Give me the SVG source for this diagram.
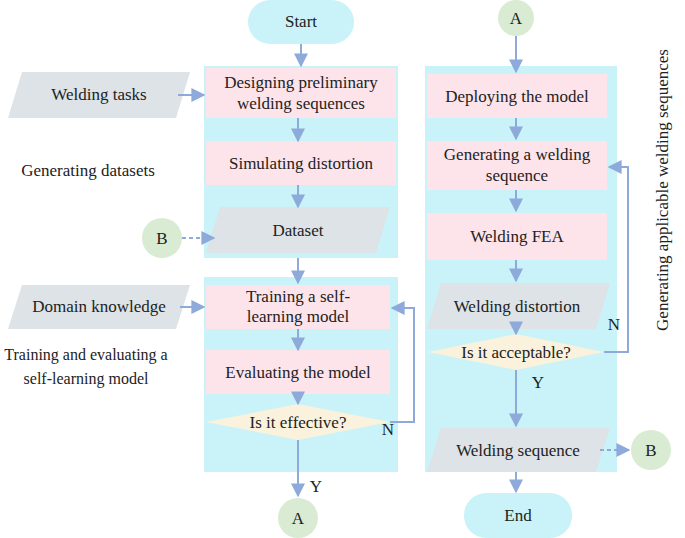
<svg xmlns="http://www.w3.org/2000/svg" width="685" height="538" viewBox="0 0 685 538" font-family="'Liberation Serif', 'Times New Roman', serif" font-size="17">
<defs>
<marker id="ah" viewBox="0 0 10 10" refX="9" refY="5" markerWidth="7" markerHeight="7" orient="auto"><path d="M0,0 L10,5 L0,10 z" fill="#8eaadb"/></marker>
<style>
text{fill:#222;text-anchor:middle}
.panel{fill:#c9f3f8}
.pink{fill:#fde4ea}
.io{fill:#dde3e6}
.dia{fill:#faf2dc}
.circ{fill:#d9ebd3}
.term{fill:#c9f3f8}
.c{stroke:#8eaadb;stroke-width:2;fill:none;marker-end:url(#ah)}
.d{stroke-dasharray:4 3}
</style>
</defs>
<rect class="panel" x="204" y="66" width="194" height="192"/>
<rect class="panel" x="204" y="277" width="194" height="195"/>
<rect class="panel" x="425" y="66" width="192" height="406"/>
<text x="88" y="176">Generating datasets</text>
<text x="86" y="360" font-size="16">Training and evaluating a</text>
<text x="86" y="384" font-size="16">self-learning model</text>
<text transform="translate(668,190) rotate(-90)">Generating applicable welding sequences</text>
<g id="start"><rect class="term" x="248" y="0" width="106" height="44" rx="22"/><text x="301" y="27">Start</text></g>
<g id="tasks"><path class="io" d="M22,72 H190 L176,118 H8 Z"/><text x="99" y="100">Welding tasks</text></g>
<g id="design"><rect class="pink" x="206" y="68" width="190" height="50"/><text x="301" y="88">Designing preliminary</text><text x="301" y="109">welding sequences</text></g>
<g id="sim"><rect class="pink" x="206" y="141" width="190" height="44"/><text x="301" y="169">Simulating distortion</text></g>
<g id="dataset"><path class="io" d="M220,207 H390 L376,253 H206 Z"/><text x="298" y="236">Dataset</text></g>
<g id="b1"><circle class="circ" cx="162" cy="238" r="20"/><text x="162" y="244">B</text></g>
<g id="domain"><path class="io" d="M22,285 H190 L176,329 H8 Z"/><text x="99" y="312">Domain knowledge</text></g>
<g id="train"><rect class="pink" x="206" y="285" width="184" height="44"/><text x="298" y="302">Training a self-</text><text x="298" y="322">learning model</text></g>
<g id="eval"><rect class="pink" x="206" y="350" width="184" height="44"/><text x="298" y="378">Evaluating the model</text></g>
<g id="eff"><path class="dia" d="M206,422 L298,404 L390,422 L298,440 Z"/><text x="298" y="428">Is it effective?</text></g>
<g id="a1"><circle class="circ" cx="298" cy="518" r="20"/><text x="298" y="524">A</text></g>
<g id="a2"><circle class="circ" cx="516" cy="18" r="18"/><text x="516" y="24">A</text></g>
<g id="deploy"><rect class="pink" x="427" y="74" width="180" height="44"/><text x="517" y="102">Deploying the model</text></g>
<g id="gen"><rect class="pink" x="427" y="141" width="180" height="49"/><text x="517" y="160">Generating a welding</text><text x="517" y="181">sequence</text></g>
<g id="fea"><rect class="pink" x="427" y="213" width="180" height="47"/><text x="517" y="242">Welding FEA</text></g>
<g id="distortion"><path class="io" d="M441,283 H610 L596,329 H427 Z"/><text x="517" y="312">Welding distortion</text></g>
<g id="acc"><path class="dia" d="M428,352 L516,334 L604,352 L516,370 Z"/><text x="516" y="358">Is it acceptable?</text></g>
<g id="wseq"><path class="io" d="M441,428 H610 L596,472 H427 Z"/><text x="518" y="456">Welding sequence</text></g>
<g id="b2"><circle class="circ" cx="651" cy="450" r="20"/><text x="651" y="456">B</text></g>
<g id="end"><rect class="term" x="464" y="493" width="108" height="45" rx="22"/><text x="518" y="521">End</text></g>
<g id="connectors">
<line class="c" x1="301" y1="44" x2="301" y2="66"/>
<line class="c" x1="178" y1="95" x2="204" y2="95"/>
<line class="c" x1="298" y1="118" x2="298" y2="141"/>
<line class="c" x1="298" y1="185" x2="298" y2="207"/>
<line class="c d" x1="182" y1="238" x2="214" y2="238"/>
<line class="c" x1="298" y1="258" x2="298" y2="283"/>
<line class="c" x1="180" y1="307" x2="204" y2="307"/>
<line class="c" x1="298" y1="329" x2="298" y2="350"/>
<line class="c" x1="298" y1="394" x2="298" y2="404"/>
<line class="c" x1="298" y1="440" x2="298" y2="496"/>
<path class="c" d="M390,422 H414 V308 H392"/>
<line class="c" x1="516" y1="36" x2="516" y2="72"/>
<line class="c" x1="516" y1="118" x2="516" y2="139"/>
<line class="c" x1="516" y1="190" x2="516" y2="211"/>
<line class="c" x1="516" y1="260" x2="516" y2="281"/>
<line class="c" x1="516" y1="329" x2="516" y2="334"/>
<line class="c" x1="516" y1="370" x2="516" y2="426"/>
<path class="c" d="M604,352 H628 V167 H609"/>
<line class="c d" x1="600" y1="450" x2="629" y2="450"/>
<line class="c" x1="516" y1="472" x2="516" y2="492"/>
</g>
<text x="316" y="492">Y</text>
<text x="388" y="435">N</text>
<text x="538" y="388">Y</text>
<text x="614" y="330">N</text>
</svg>
